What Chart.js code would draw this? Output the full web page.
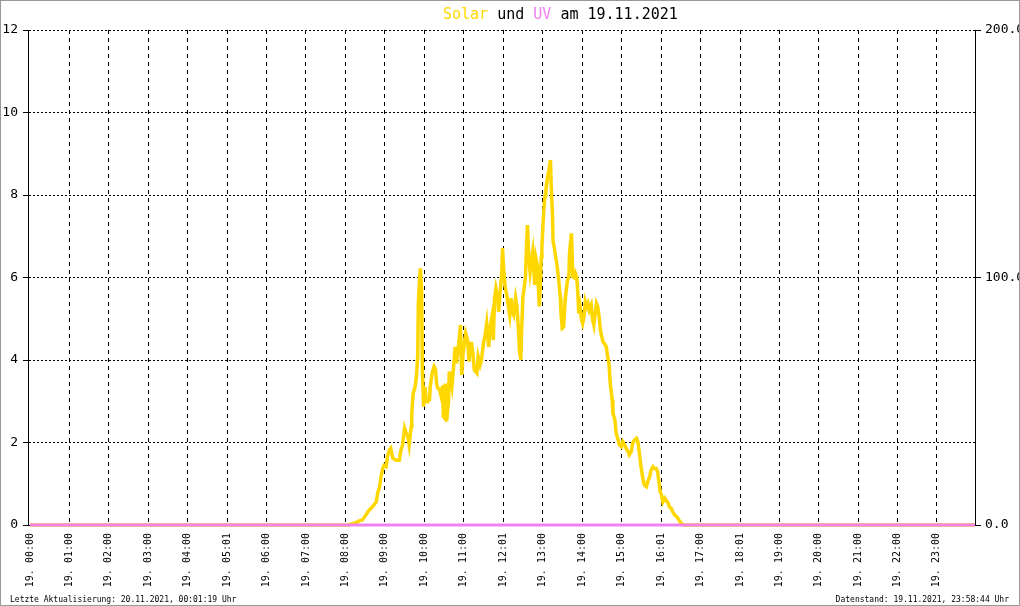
<!DOCTYPE html>
<html><head><meta charset="utf-8">
<script src="https://cdn.jsdelivr.net/npm/chart.js@4"></script>
<style>html,body{margin:0;padding:0;background:#fff}canvas{display:block}</style>
</head><body>
<canvas id="c" width="1020" height="606"></canvas>
<script>
// Solar (minutes since 00:00 of 19.11.2021) and values
const solarTimes = [0,485,490,495,501,506,511,516,521,527,529,532,534,537,539,542,544,547,549,552,557,562,564,567,570,572,575,577,580,581,583,586,588,590,591,593,594,596,597,599,601,603,605,608,609,612,615,617,619,621,623,626,627,628,629,631,632,634,637,638,642,644,647,649,652,655,657,659,663,666,668,670,672,674,676,680,682,685,687,690,693,695,698,700,703,705,707,709,712,713,716,718,719,721,723,726,728,730,732,734,736,739,741,743,745,747,748,750,752,754,756,757,759,761,763,765,768,770,772,775,777,778,779,781,783,784,785,788,789,792,793,795,796,798,800,802,804,807,808,810,812,814,816,818,820,821,823,824,826,828,830,832,834,835,837,839,841,843,845,847,849,851,854,856,858,860,862,864,866,868,870,872,874,877,879,881,883,886,887,890,892,895,897,900,902,905,907,910,912,915,917,920,923,925,927,929,931,933,935,938,940,943,945,948,950,953,955,957,959,961,963,966,968,971,973,976,978,981,984,986,989,991,995,1438];
const solarValues = [0,0,0.03,0.05,0.1,0.12,0.24,0.36,0.44,0.56,0.77,0.93,1.17,1.38,1.45,1.42,1.66,1.82,1.86,1.62,1.57,1.57,1.78,1.94,2.35,2.26,2.14,1.94,2.38,2.71,3.19,3.35,3.6,4.08,5.37,6.02,6.22,5.7,3.84,2.87,3.35,3.03,2.99,3.03,3.35,3.68,3.84,3.78,3.39,3.31,3.3,3.1,3.27,3.39,2.63,2.59,3.43,2.51,3.03,3.72,3.35,3.72,4.32,3.92,4.32,4.85,3.64,4.16,4.65,4.48,3.96,4.4,4.4,4.16,3.76,3.68,4.08,3.88,4.0,4.4,4.65,4.89,4.32,4.77,5.05,4.48,5.5,5.74,5.5,5.17,5.74,6.14,6.71,6.14,5.78,5.53,5.29,5.09,5.5,5.17,5.09,5.5,5.29,4.81,4.2,4.0,4.65,5.53,5.74,6.02,6.95,7.27,6.5,6.14,6.42,6.63,5.82,6.46,6.3,5.3,6.0,6.5,6.75,7.4,7.88,8.0,8.12,8.48,8.53,8.85,8.28,7.56,6.87,6.71,6.5,6.3,6.02,5.53,5.13,4.77,4.8,5.37,5.7,5.94,6.02,6.59,6.91,7.07,6.02,6.0,6.1,6.0,5.53,5.13,5.29,5.01,4.89,5.05,5.41,5.29,5.37,5.21,5.33,5.0,4.85,5.13,5.37,5.29,5.05,4.73,4.57,4.44,4.4,4.32,4.08,3.92,3.43,3.03,2.71,2.55,2.22,2.06,1.94,1.9,2.02,1.94,1.86,1.78,1.7,1.78,1.98,2.06,2.1,2.02,1.78,1.5,1.29,1.09,0.97,0.93,1.05,1.17,1.33,1.41,1.37,1.37,1.29,1.05,0.81,0.73,0.56,0.65,0.6,0.53,0.44,0.4,0.32,0.24,0.2,0.16,0.08,0.04,0,0];
const uvTimes = [0, 1438];
const uvValues = [0, 0];
const hourTicks = [0,60,120,180,240,301,360,420,480,540,600,660,721,780,840,900,961,1020,1081,1140,1200,1260,1320,1380];
const hourLabels = ["19. 00:00","19. 01:00","19. 02:00","19. 03:00","19. 04:00","19. 05:01","19. 06:00","19. 07:00","19. 08:00","19. 09:00","19. 10:00","19. 11:00","19. 12:01","19. 13:00","19. 14:00","19. 15:00","19. 16:01","19. 17:00","19. 18:01","19. 19:00","19. 20:00","19. 21:00","19. 22:00","19. 23:00"];
const leftTicks = [0,2,4,6,8,10,12];
const rightTicks = [0,100,200];

const MONO = '"DejaVu Sans Mono", "Liberation Mono", monospace';
const GOLD = '#FFD700';
const VIOLET = '#EE82EE';

const solarData = solarTimes.map((t,i)=>({x:t,y:solarValues[i]}));
const uvData = uvTimes.map((t,i)=>({x:t,y:uvValues[i]}));

const decor = {
  id:'decor',
  afterDraw(chart){
    const ctx = chart.ctx;
    ctx.save();
    ctx.font = '15px ' + MONO;
    ctx.textBaseline = 'alphabetic';
    ctx.textAlign = 'left';
    const parts = [['Solar',GOLD],[' und ','#000'],['UV',VIOLET],[' am 19.11.2021','#000']];
    let x = 443;
    for (const [t,c] of parts){ ctx.fillStyle=c; ctx.fillText(t,x,19); x += ctx.measureText(t).width; }
    ctx.font = '8px ' + MONO;
    ctx.fillStyle = '#000';
    ctx.fillText('Letzte Aktualisierung: 20.11.2021, 00:01:19 Uhr', 10, 602);
    ctx.textAlign = 'right';
    ctx.fillText('Datenstand: 19.11.2021, 23:58:44 Uhr', 1009, 602);
    ctx.strokeStyle = '#999';
    ctx.lineWidth = 1;
    ctx.strokeRect(0.5,0.5,1019,605);
    ctx.restore();
  }
};

new Chart(document.getElementById('c'), {
  type:'line',
  data:{datasets:[
    {label:'UV', data:uvData, yAxisID:'y2', borderColor:VIOLET, borderWidth:3, pointRadius:0, tension:0, clip:{left:0,right:0,top:0,bottom:2}},
    {label:'Solar', data:solarData, yAxisID:'y', borderColor:GOLD, borderWidth:3.5, pointRadius:0, tension:0, clip:{left:0,right:0,top:0,bottom:3}}
  ]},
  options:{
    responsive:false, animation:false, events:[],
    layout:{padding:{top:30,left:0,right:0,bottom:0}},
    plugins:{legend:{display:false}, title:{display:false}, tooltip:{enabled:false}},
    scales:{
      x:{type:'linear', min:-3, max:1438,
        afterBuildTicks(s){ s.ticks = hourTicks.map(v=>({value:v})); },
        afterFit(s){ s.height = 81; },
        ticks:{autoSkip:false, maxRotation:90, minRotation:90, padding:8, color:'#000',
          font:{family:MONO, size:10},
          callback:(v)=>hourLabels[hourTicks.indexOf(v)]},
        grid:{color:(c)=> c.index===0 ? 'rgba(0,0,0,0)' : '#000', lineWidth:1, drawTicks:false},
        border:{display:true, color:'#000', dash:[4,4]}
      },
      y:{type:'linear', position:'left', min:0, max:12,
        afterBuildTicks(s){ s.ticks = leftTicks.map(v=>({value:v})); },
        afterFit(s){ s.width = 28; },
        ticks:{color:'#000', padding:5, font:{family:MONO, size:13}},
        grid:{color:'#000', lineWidth:1, tickLength:5, tickColor:'#000'},
        border:{display:true, color:'#000', dash:[2,2]}
      },
      y2:{type:'linear', position:'right', min:0, max:200,
        afterBuildTicks(s){ s.ticks = rightTicks.map(v=>({value:v})); },
        afterFit(s){ s.width = 45; },
        ticks:{color:'#000', padding:4, font:{family:MONO, size:13}, callback:(v)=>Number(v).toFixed(1)},
        grid:{drawOnChartArea:false, color:'#000', tickLength:6, tickColor:'#000'},
        border:{display:true, color:'#000'}
      }
    }
  },
  plugins:[decor]
});
</script>
</body></html>
